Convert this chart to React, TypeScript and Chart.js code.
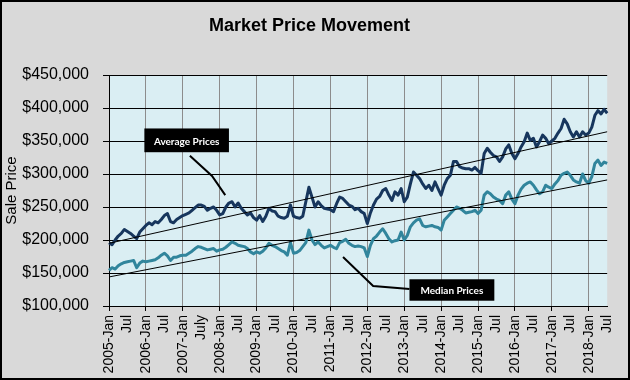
import React, { useEffect, useRef } from "react";
import { Chart, registerables } from "chart.js";

Chart.register(...registerables);

// ---------- data ----------
const years = [2005, 2006, 2007, 2008, 2009, 2010, 2011, 2012, 2013, 2014, 2015, 2016, 2017, 2018];
const monthNames = ["Jan", "Feb", "Mar", "Apr", "May", "Jun", "Jul", "Aug", "Sep", "Oct", "Nov", "Dec"];
const lastMonthOfLastYear = 6; // 2018-Jul
const categories: string[] = years
  .flatMap((y) => monthNames.map((m) => `${y}-${m}`))
  .slice(0, (years.length - 1) * 12 + lastMonthOfLastYear + 1);

// tick label text: "YYYY-Jan" at each January, "Jul" at July (2007 reads "July")
const julyLabelByYear: Record<number, string> = { 2007: "July" };
const defaultJulyLabel = "Jul";

// Average sale price, thousands of dollars, monthly 2005-Jan .. 2018-Jul
const averagePricesK = [
  196, 193, 200, 206, 210, 216, 213, 210, 206, 202, 212, 217,
  222, 226, 223, 228, 226, 231, 237, 240, 228, 226, 231, 234,
  237, 239, 241, 245, 249, 253, 253, 251, 245, 248, 250, 245,
  238, 240, 250, 256, 258, 250, 256, 248, 243, 238, 241, 234,
  230, 237, 228, 236, 248, 244, 243, 236, 234, 233, 236, 253,
  236, 234, 233, 236, 258, 280, 265, 250, 258, 252, 248, 247,
  246, 243, 255, 265, 263, 258, 253, 251, 246, 248, 243, 240,
  225, 241, 253, 262, 266, 275, 278, 268, 260, 273, 268, 278,
  258, 265, 285, 303, 298, 293, 285, 278, 283, 275, 288, 278,
  268, 283, 293, 298, 319, 319, 311, 309, 308, 308, 306, 310,
  305, 301, 331, 339, 333, 328, 326, 319, 326, 338, 344, 331,
  323, 331, 341, 349, 362, 351, 354, 341, 349, 359, 354, 346,
  350, 354, 362, 369, 383, 376, 364, 356, 364, 356, 364, 359,
  362, 371, 389, 396, 391, 398, 392,
];

// Median sale price, thousands of dollars
const medianPricesK = [
  154, 158, 156, 161, 164, 166, 167, 168, 169, 158, 165, 168,
  167, 168, 169, 170, 173, 177, 180, 176, 169, 174, 174, 176,
  177, 177, 180, 183, 187, 190, 189, 187, 185, 186, 187, 183,
  185, 186, 189, 193, 197, 195, 192, 191, 190, 187, 182, 179,
  182, 180, 183, 188, 195, 192, 190, 187, 184, 182, 177, 196,
  180, 181, 184, 190, 196, 215, 200, 193, 197, 192, 188, 190,
  192, 189, 187, 196, 198, 201, 195, 192, 190, 191, 190, 188,
  175, 192, 202, 206, 212, 217, 210, 202, 197, 199, 200, 212,
  200, 207, 220, 226, 230, 232, 222, 220, 221, 222, 220, 219,
  215, 230, 235, 240, 245, 250, 248, 245, 241, 242, 243, 245,
  240, 245, 268, 273, 270, 265, 262, 260, 255, 268, 273, 262,
  255, 268, 277, 283, 286, 288, 283, 276, 270, 273, 283, 280,
  278, 285, 290, 298, 301, 303, 298, 291, 288, 286, 300, 290,
  286, 296, 316, 321, 313, 318, 316,
];

// linear trend lines: value at first month and at last month
const averageTrendEnds = [195000, 364000];
const medianTrendEnds = [144000, 291000];

// y axis
const yMin = 100000;
const yMax = 450000;
const yStep = 50000;

// callouts (anchored in data coordinates: x = month index, y = dollars)
const callouts = [
  {
    text: "Average Prices",
    box: { x0: 11.5, x1: 39, y0: 369000, y1: 333000 },
    leader: [
      [26.3, 327700],
      [33.5, 297000],
      [37.8, 268000],
    ],
  },
  {
    text: "Median Prices",
    box: { x0: 97.7, x1: 125.3, y0: 140500, y1: 108000 },
    leader: [
      [76.1, 174200],
      [85.9, 130300],
      [97.7, 125800],
    ],
  },
];

// ---------- helpers ----------
function tickLabel(i: number): string {
  const y = years[Math.floor(i / 12)];
  const mo = i % 12;
  if (mo === 0) return `${y}-Jan`;
  if (mo === 6) return julyLabelByYear[y] ?? defaultJulyLabel;
  return "";
}

function trendData(ends: number[]): (number | null)[] {
  return categories.map((_, i) => (i === 0 ? ends[0] : i === categories.length - 1 ? ends[1] : null));
}

const plotBgPlugin = {
  id: "plotBg",
  beforeDraw(chart: any) {
    const { ctx, chartArea } = chart;
    ctx.save();
    ctx.fillStyle = "#DAEEF3";
    ctx.fillRect(chartArea.left, chartArea.top, chartArea.right - chartArea.left, chartArea.bottom - chartArea.top);
    ctx.restore();
  },
};

const calloutPlugin = {
  id: "callouts",
  afterDatasetsDraw(chart: any) {
    const { ctx } = chart;
    const xs = chart.scales.x;
    const ys = chart.scales.y;
    ctx.save();
    callouts.forEach((c) => {
      ctx.beginPath();
      ctx.strokeStyle = "#000";
      ctx.lineWidth = 2;
      c.leader.forEach(([lx, ly], i) => {
        const px = xs.getPixelForValue(lx);
        const py = ys.getPixelForValue(ly);
        if (i === 0) ctx.moveTo(px, py);
        else ctx.lineTo(px, py);
      });
      ctx.stroke();
      const bx0 = xs.getPixelForValue(c.box.x0);
      const bx1 = xs.getPixelForValue(c.box.x1);
      const by0 = ys.getPixelForValue(c.box.y0);
      const by1 = ys.getPixelForValue(c.box.y1);
      ctx.fillStyle = "#000";
      ctx.fillRect(bx0, by0, bx1 - bx0, by1 - by0);
      ctx.fillStyle = "#fff";
      ctx.font = "bold 10px Lato, 'Open Sans', sans-serif";
      ctx.textAlign = "center";
      ctx.textBaseline = "middle";
      ctx.fillText(c.text, (bx0 + bx1) / 2, (by0 + by1) / 2 + 1);
    });
    ctx.restore();
  },
};

export default function App() {
  const canvasRef = useRef<HTMLCanvasElement | null>(null);

  useEffect(() => {
    if (!canvasRef.current) return;
    Chart.defaults.font.family = "'Liberation Sans', Arial, sans-serif";
    const chart = new Chart(canvasRef.current, {
      type: "line",
      data: {
        labels: categories,
        datasets: [
          {
            label: "Average Trend",
            data: trendData(averageTrendEnds),
            borderColor: "#000",
            borderWidth: 1,
            pointRadius: 0,
            spanGaps: true,
          },
          {
            label: "Median Trend",
            data: trendData(medianTrendEnds),
            borderColor: "#000",
            borderWidth: 1,
            pointRadius: 0,
            spanGaps: true,
          },
          {
            label: "Average Prices",
            data: averagePricesK.map((v) => v * 1000),
            borderColor: "#17365D",
            borderWidth: 3,
            pointRadius: 0,
            borderJoinStyle: "round",
            tension: 0,
          },
          {
            label: "Median Prices",
            data: medianPricesK.map((v) => v * 1000),
            borderColor: "#31859C",
            borderWidth: 3,
            pointRadius: 0,
            borderJoinStyle: "round",
            tension: 0,
          },
        ],
      },
      options: {
        responsive: false,
        animation: false,
        devicePixelRatio: 1,
        layout: { padding: { left: 0, right: 11, top: 0, bottom: 0 } },
        plugins: {
          legend: { display: false },
          tooltip: { enabled: false },
          title: {
            display: true,
            text: "Market Price Movement",
            color: "#000",
            font: { size: 18, weight: "bold", family: "'Liberation Sans', Arial, sans-serif" },
            padding: { top: 13.2, bottom: 38.2 },
          },
        },
        scales: {
          x: {
            type: "category",
            offset: false,
            afterBuildTicks: (axis: any) => {
              axis.ticks = axis.ticks.filter((t: any) => t.value % 6 === 0);
            },
            afterFit: (scale: any) => {
              scale.height = 72;
            },
            ticks: {
              autoSkip: false,
              minRotation: 90,
              maxRotation: 90,
              color: "#000",
              padding: 4,
              font: { size: 14 },
              callback: (value: any) => tickLabel(Number(value)),
            },
            grid: {
              color: (ctx: any) => (ctx.tick && ctx.tick.value % 12 === 0 ? "#8C8C8C" : "rgba(0,0,0,0)"),
              tickColor: (ctx: any) => (ctx.tick && ctx.tick.value % 12 === 0 ? "#000" : "rgba(0,0,0,0)"),
              tickLength: 5,
              lineWidth: 1,
            },
            border: { color: "#000", width: 1 },
          },
          y: {
            min: yMin,
            max: yMax,
            afterFit: (scale: any) => {
              scale.width = 107;
            },
            ticks: {
              stepSize: yStep,
              color: "#000",
              padding: 14,
              font: { size: 16 },
              callback: (value: any) => "$" + Number(value).toLocaleString("en-US"),
            },
            grid: { color: "#000", tickColor: "#000", tickLength: 6, lineWidth: 1 },
            border: { color: "#000", width: 1 },
            title: {
              display: true,
              text: "Sale Price",
              color: "#000",
              font: { size: 15 },
              padding: { top: 1, bottom: 0 },
            },
          },
        },
      },
      plugins: [plotBgPlugin, calloutPlugin],
    } as any);
    return () => chart.destroy();
  }, []);

  return (
    <div
      style={{
        position: "absolute",
        left: 0,
        top: 0,
        width: 630,
        height: 380,
        boxSizing: "border-box",
        border: "2px solid #000",
        background: "#D9D9D9",
      }}
    >
      <canvas ref={canvasRef} width={626} height={376} style={{ display: "block", width: 626, height: 376 }} />
    </div>
  );
}
